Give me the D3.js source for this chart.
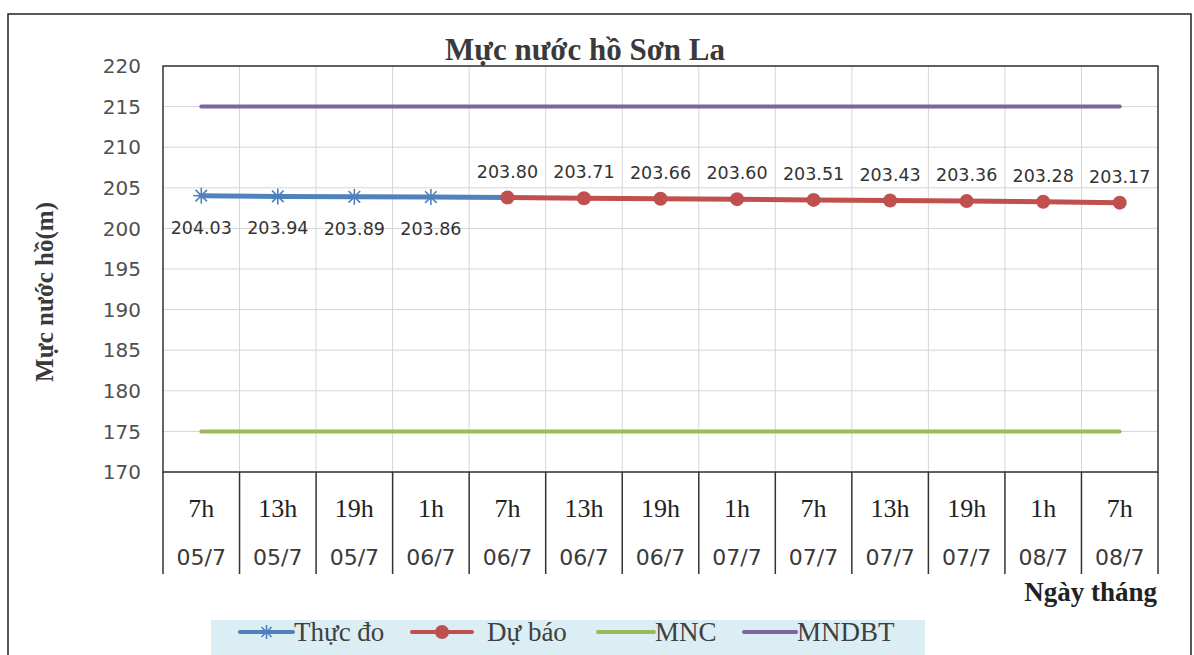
<!DOCTYPE html>
<html><head><meta charset="utf-8">
<script src="https://cdn.jsdelivr.net/npm/d3@7"></script>
<style>body{margin:0;background:#fff;}svg{display:block;}</style>
</head><body>
<script>
const hours = ["7h","13h","19h","1h","7h","13h","19h","1h","7h","13h","19h","1h","7h"];
const dates = ["05/7","05/7","05/7","06/7","06/7","06/7","06/7","07/7","07/7","07/7","07/7","08/7","08/7"];
const thucDo = [204.03, 203.94, 203.89, 203.86, 203.80, null, null, null, null, null, null, null, null];
const duBao  = [null, null, null, null, 203.80, 203.71, 203.66, 203.60, 203.51, 203.43, 203.36, 203.28, 203.17];
const mnc    = [175,175,175,175,175,175,175,175,175,175,175,175,175];
const mndbt  = [215,215,215,215,215,215,215,215,215,215,215,215,215];
const yTicks = [170,175,180,185,190,195,200,205,210,215,220];

const W = 1194, H = 655;
const L = 163, R = 1158, T = 66, B = 472;
const svg = d3.select("body").append("svg").attr("width", W).attr("height", H);

// outer border
svg.append("rect").attr("x", 8).attr("y", 14).attr("width", 1183).attr("height", 700)
  .attr("fill", "#fff").attr("stroke", "#222").attr("stroke-width", 1.5);

const idx = d3.range(hours.length);
const xb = d3.scaleBand().domain(idx).range([L, R]);
const xc = i => xb(i) + xb.bandwidth() / 2;
const y = d3.scaleLinear().domain([170, 220]).range([B, T]);

// grid
const g = svg.append("g");
g.selectAll(".hg").data(yTicks).enter().append("line")
  .attr("x1", L).attr("x2", R).attr("y1", d => y(d)).attr("y2", d => y(d))
  .attr("stroke", "#d6d6d6").attr("stroke-width", 1);
g.selectAll(".vg").data(idx.slice(1)).enter().append("line")
  .attr("x1", d => xb(d)).attr("x2", d => xb(d)).attr("y1", T).attr("y2", B)
  .attr("stroke", "#d6d6d6").attr("stroke-width", 1);

// plot border
svg.append("rect").attr("x", L).attr("y", T).attr("width", R - L).attr("height", B - T)
  .attr("fill", "none").attr("stroke", "#333").attr("stroke-width", 1.5);

// y axis labels
svg.append("g").selectAll("text").data(yTicks).enter().append("text")
  .attr("x", 141).attr("y", d => y(d)).attr("dy", "0.36em").attr("text-anchor", "end")
  .attr("font-family", "DejaVu Sans").attr("font-size", 20).attr("fill", "#505050")
  .text(d => d);

// x axis separators
const sep = idx.concat([hours.length]);
svg.append("g").selectAll("line").data(sep).enter().append("line")
  .attr("x1", d => d < hours.length ? xb(d) : R).attr("x2", d => d < hours.length ? xb(d) : R)
  .attr("y1", B).attr("y2", 574).attr("stroke", "#333").attr("stroke-width", 1.5);

svg.append("g").selectAll("text").data(idx).enter().append("text")
  .attr("x", d => xc(d)).attr("y", 517).attr("text-anchor", "middle")
  .attr("font-family", "Liberation Serif").attr("font-size", 26).attr("fill", "#222")
  .text(d => hours[d]);
svg.append("g").selectAll("text").data(idx).enter().append("text")
  .attr("x", d => xc(d)).attr("y", 565).attr("text-anchor", "middle")
  .attr("font-family", "DejaVu Sans").attr("font-size", 22).attr("fill", "#3a3a3a")
  .text(d => dates[d]);

// lines
const C = {blue: "#4f81bd", red: "#c0504d", green: "#9bbb59", purple: "#8064a2"};
const line = d3.line().defined(d => d.v !== null).x(d => xc(d.i)).y(d => y(d.v));
const toPts = arr => arr.map((v, i) => ({i, v}));
function drawLine(arr, color, w) {
  svg.append("path").datum(toPts(arr)).attr("d", line).attr("fill", "none")
    .attr("stroke", color).attr("stroke-width", w).attr("stroke-linejoin", "round").attr("stroke-linecap", "round");
}
drawLine(mndbt, C.purple, 4);
drawLine(mnc, C.green, 4);
drawLine(thucDo, C.blue, 5);
drawLine(duBao, C.red, 5);

function asterisk(sel, cx, cy, r, color) {
  const gg = sel.append("g").attr("stroke", color).attr("stroke-width", 1.6);
  [[r,0],[0,r],[r*0.72,r*0.72],[r*0.72,-r*0.72]].forEach(([dx,dy]) => {
    gg.append("line").attr("x1", cx - dx).attr("x2", cx + dx).attr("y1", cy - dy).attr("y2", cy + dy);
  });
}
toPts(thucDo).filter(d => d.v !== null && d.i < 4).forEach(d => asterisk(svg, xc(d.i), y(d.v), 8, C.blue));
svg.append("g").selectAll("circle").data(toPts(duBao).filter(d => d.v !== null)).enter().append("circle")
  .attr("cx", d => xc(d.i)).attr("cy", d => y(d.v)).attr("r", 7).attr("fill", C.red);

// data labels
svg.append("g").selectAll("text").data(toPts(thucDo).filter(d => d.v !== null && d.i < 4)).enter().append("text")
  .attr("x", d => xc(d.i)).attr("y", d => y(d.v) + 38).attr("text-anchor", "middle")
  .attr("font-family", "DejaVu Sans").attr("font-size", 17.5).attr("fill", "#333")
  .text(d => d.v.toFixed(2));
svg.append("g").selectAll("text").data(toPts(duBao).filter(d => d.v !== null)).enter().append("text")
  .attr("x", d => xc(d.i)).attr("y", d => y(d.v) - 20).attr("text-anchor", "middle")
  .attr("font-family", "DejaVu Sans").attr("font-size", 17.5).attr("fill", "#333")
  .text(d => d.v.toFixed(2));

// titles
svg.append("text").attr("x", 585).attr("y", 60).attr("text-anchor", "middle")
  .attr("font-family", "Liberation Serif").attr("font-weight", "bold").attr("font-size", 31).attr("fill", "#3a3a3a")
  .text("Mực nước hồ Sơn La");
svg.append("text").attr("transform", "translate(53,292) rotate(-90)").attr("text-anchor", "middle")
  .attr("font-family", "Liberation Serif").attr("font-weight", "bold").attr("font-size", 25).attr("fill", "#3a3a3a")
  .text("Mực nước hồ(m)");
svg.append("text").attr("x", 1157).attr("y", 601).attr("text-anchor", "end")
  .attr("font-family", "Liberation Serif").attr("font-weight", "bold").attr("font-size", 27).attr("fill", "#222")
  .text("Ngày tháng");

// legend
svg.append("rect").attr("x", 211).attr("y", 620).attr("width", 714).attr("height", 40).attr("fill", "#dbeef4");
const legend = [
  {name: "Thực đo", color: C.blue, mark: "ast", x1: 240, x2: 293, tx: 294},
  {name: "Dự báo", color: C.red, mark: "dot", x1: 412, x2: 472, tx: 487},
  {name: "MNC", color: C.green, mark: null, x1: 598, x2: 654, tx: 655},
  {name: "MNDBT", color: C.purple, mark: null, x1: 744, x2: 796, tx: 797}
];
const ly = 632;
legend.forEach(l => {
  svg.append("line").attr("x1", l.x1).attr("x2", l.x2).attr("y1", ly).attr("y2", ly)
    .attr("stroke", l.color).attr("stroke-width", 4).attr("stroke-linecap", "round");
  if (l.mark === "ast") asterisk(svg, (l.x1 + l.x2) / 2, ly, 7, l.color);
  if (l.mark === "dot") svg.append("circle").attr("cx", (l.x1 + l.x2) / 2).attr("cy", ly).attr("r", 7).attr("fill", l.color);
  svg.append("text").attr("x", l.tx).attr("y", ly).attr("dy", "0.35em")
    .attr("font-family", "Liberation Serif").attr("font-size", 27).attr("fill", "#404040").text(l.name);
});
</script>
</body></html>
